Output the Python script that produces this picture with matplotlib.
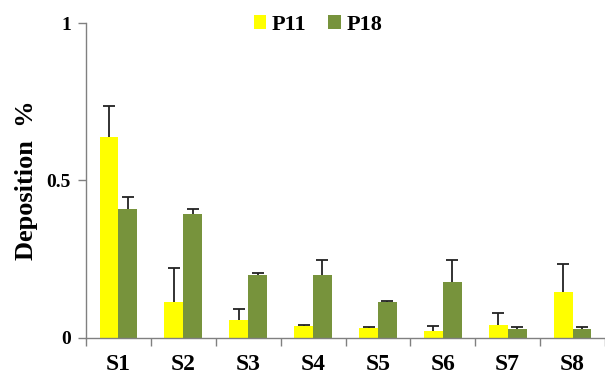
import numpy as np
import matplotlib.pyplot as plt

# --- DATA ---
sites = ['S1', 'S2', 'S3', 'S4', 'S5', 'S6', 'S7', 'S8']
p11_mean = [0.639, 0.114, 0.056, 0.037, 0.030, 0.022, 0.039, 0.145]
p11_err = [0.098, 0.108, 0.034, 0.004, 0.003, 0.016, 0.040, 0.090]
p18_mean = [0.408, 0.392, 0.198, 0.198, 0.114, 0.177, 0.026, 0.026]
p18_err = [0.038, 0.018, 0.008, 0.049, 0.003, 0.070, 0.007, 0.007]
y_ticks = [0, 0.5, 1]
y_tick_labels = ['0', '0.5', '1']

plt.rcParams['font.family'] = ['Liberation Serif', 'DejaVu Serif']
plt.rcParams['font.weight'] = 'bold'

YELLOW = '#FFFF00'
GREEN = '#77933C'
AXIS_GREY = '#808080'

fig = plt.figure(figsize=(6.05, 3.76), dpi=100)
ax = fig.add_axes([86 / 605, 1 - 337.5 / 376, 519 / 605, (337.5 - 23) / 376])

x = np.arange(len(sites))
w = 0.29
err_style = dict(ecolor='#222222', elinewidth=1.3, capsize=4, capthick=1.3)

bars = []
for offset, mean, err, col, name in [(-w / 2, p11_mean, p11_err, YELLOW, 'P11'),
                                     (w / 2, p18_mean, p18_err, GREEN, 'P18')]:
    b = ax.bar(x + offset, mean, w, color=col, label=name,
               yerr=[np.zeros(len(sites)), err], error_kw=err_style, zorder=2)
    # upper half only: hide the cap drawn at the bar top
    b.errorbar.lines[1][0].set_visible(False)
    bars.append(b)

ax.set_xlim(-0.5, 7.4)
ax.set_ylim(0, 1)

# category labels centred, tick marks between categories
ax.set_xticks(x)
ax.set_xticklabels(sites, fontsize=17, fontweight='bold')
ax.set_xticks(np.arange(-0.5, 8, 1), minor=True)
ax.tick_params(axis='x', which='major', length=0, pad=12)
ax.tick_params(axis='x', which='minor', length=6, color=AXIS_GREY, width=1)

ax.set_yticks(y_ticks)
ax.set_yticklabels(y_tick_labels, fontsize=14, fontweight='bold')
ax.tick_params(axis='y', length=6, color=AXIS_GREY, width=1, pad=5)

for side in ['top', 'right']:
    ax.spines[side].set_visible(False)
for side in ['left', 'bottom']:
    ax.spines[side].set_color(AXIS_GREY)
    ax.spines[side].set_linewidth(1)

ax.set_ylabel('Deposition  %', fontsize=19, fontweight='bold', labelpad=6)

leg = ax.legend(loc='center', bbox_to_anchor=(318 / 605, 1 - 25 / 376),
                bbox_transform=fig.transFigure, ncol=2, frameon=False,
                prop={'size': 16, 'weight': 'bold'}, handlelength=0.55,
                handleheight=0.55, handletextpad=0.25, columnspacing=1.0)

fig.savefig('out.png', dpi=100)
